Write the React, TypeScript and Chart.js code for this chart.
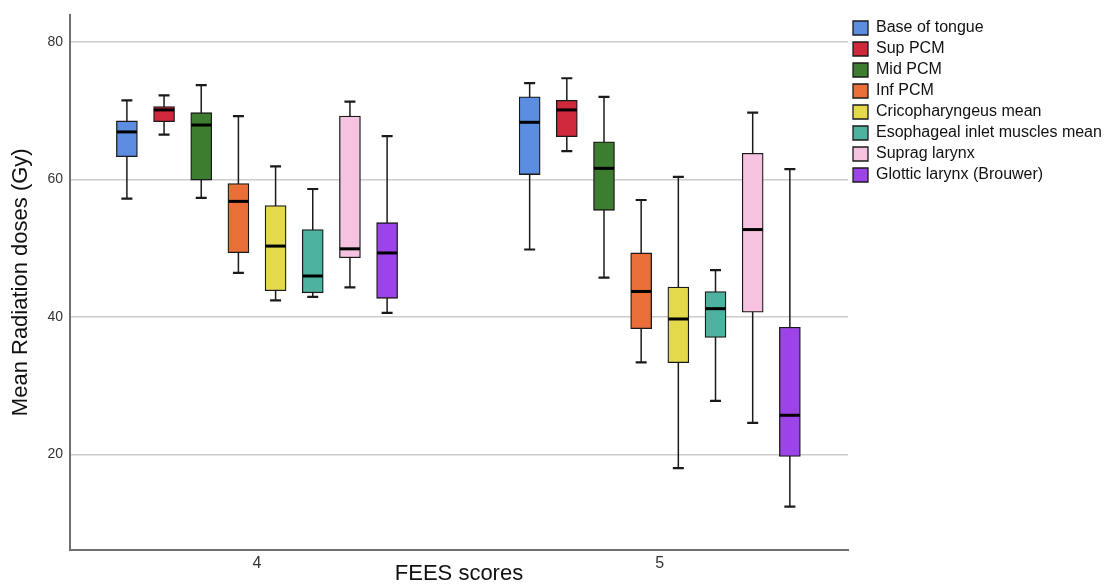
import React, { useEffect, useRef } from "react";
import { Chart, registerables } from "chart.js";

Chart.register(...registerables);

// ---- Data -------------------------------------------------------------
const categories = [4, 5];
const categoryLabels = ["4", "5"];

const seriesNames = [
  "Base of tongue",
  "Sup PCM",
  "Mid PCM",
  "Inf PCM",
  "Cricopharyngeus mean",
  "Esophageal inlet muscles mean",
  "Suprag larynx",
  "Glottic larynx (Brouwer)",
];

const seriesColors = [
  "#5b8ee0",
  "#d0283c",
  "#3d7d2f",
  "#e96e37",
  "#e3d94b",
  "#4db3a0",
  "#f5c3df",
  "#9c44e8",
];

// each row: [FEES 4, FEES 5]
const whiskerMin = [
  [57.2, 49.8],
  [66.5, 64.1],
  [57.3, 45.7],
  [46.4, 33.4],
  [42.4, 18.0],
  [42.9, 27.8],
  [44.3, 24.6],
  [40.6, 12.4],
];
const quartile1 = [
  [63.3, 60.7],
  [68.4, 66.2],
  [59.9, 55.5],
  [49.35, 38.3],
  [43.8, 33.35],
  [43.5, 37.0],
  [48.6, 40.7],
  [42.7, 19.7],
];
const medians = [
  [66.9, 68.3],
  [70.1, 70.1],
  [67.9, 61.6],
  [56.8, 43.7],
  [50.3, 39.7],
  [45.95, 41.2],
  [49.9, 52.7],
  [49.3, 25.7],
];
const quartile3 = [
  [68.5, 72.0],
  [70.6, 71.5],
  [69.7, 65.45],
  [59.4, 49.3],
  [56.2, 44.35],
  [52.7, 43.7],
  [69.2, 63.8],
  [53.7, 38.5],
];
const whiskerMax = [
  [71.5, 74.0],
  [72.2, 74.7],
  [73.7, 72.0],
  [69.2, 57.0],
  [61.9, 60.35],
  [58.6, 46.8],
  [71.3, 69.7],
  [66.3, 61.5],
];

const yTicks = [20, 40, 60, 80];

// ---- Layout constants -------------------------------------------------
const FONT = "'Liberation Sans', Arial, sans-serif";
const SERIES_STEP = 0.0923; // spacing between boxes inside a group (x units)
const EDGE = "#1a1a1a";

const boxPlotPlugin = {
  id: "boxWhiskers",
  beforeDatasetsDraw(chart: any) {
    const ctx = chart.ctx;
    const y = chart.scales.y;
    chart.data.datasets.forEach((_ds: any, i: number) => {
      const meta = chart.getDatasetMeta(i);
      meta.data.forEach((bar: any, j: number) => {
        const x = bar.x;
        const yLo = y.getPixelForValue(whiskerMin[i][j]);
        const yHi = y.getPixelForValue(whiskerMax[i][j]);
        ctx.save();
        ctx.strokeStyle = EDGE;
        ctx.lineWidth = 1.5;
        ctx.beginPath();
        ctx.moveTo(x, yLo);
        ctx.lineTo(x, yHi);
        ctx.stroke();
        ctx.lineWidth = 2.2;
        ctx.beginPath();
        ctx.moveTo(x - 5.5, yLo);
        ctx.lineTo(x + 5.5, yLo);
        ctx.moveTo(x - 5.5, yHi);
        ctx.lineTo(x + 5.5, yHi);
        ctx.stroke();
        ctx.restore();
      });
    });
  },
  afterDatasetsDraw(chart: any) {
    const ctx = chart.ctx;
    const y = chart.scales.y;
    chart.data.datasets.forEach((_ds: any, i: number) => {
      const meta = chart.getDatasetMeta(i);
      meta.data.forEach((bar: any, j: number) => {
        const ym = y.getPixelForValue(medians[i][j]);
        const half = bar.width / 2;
        ctx.save();
        ctx.strokeStyle = "#000";
        ctx.lineWidth = 3;
        ctx.beginPath();
        ctx.moveTo(bar.x - half + 0.5, ym);
        ctx.lineTo(bar.x + half - 0.5, ym);
        ctx.stroke();
        ctx.restore();
      });
    });
  },
};

export default function App() {
  const ref = useRef<HTMLCanvasElement | null>(null);

  useEffect(() => {
    if (!ref.current) return;
    const n = seriesNames.length;
    const datasets = seriesNames.map((name, i) => ({
      label: name,
      data: categories.map((c, j) => ({
        x: c + (i - (n - 1) / 2) * SERIES_STEP,
        y: [quartile1[i][j], quartile3[i][j]],
      })),
      backgroundColor: seriesColors[i],
      borderColor: EDGE,
      borderWidth: 1.3,
      borderSkipped: false,
      barThickness: 21,
      grouped: false,
    }));

    Chart.defaults.font.family = FONT;

    const chart = new Chart(ref.current, {
      type: "bar",
      data: { datasets } as any,
      plugins: [boxPlotPlugin],
      options: {
        animation: false,
        responsive: true,
        maintainAspectRatio: false,
        layout: { padding: { top: 7, right: 0, bottom: 0, left: 0 } },
        plugins: {
          tooltip: { enabled: false },
          legend: {
            position: "right",
            align: "start",
            maxWidth: 254,
            labels: {
              boxWidth: 15,
              boxHeight: 14,
              padding: 5,
              color: "#111",
              font: { size: 16, family: FONT },
            },
          },
        },
        scales: {
          x: {
            type: "linear",
            offset: false,
            min: 3.5357,
            max: 5.4674,
            afterBuildTicks: (scale: any) => {
              scale.ticks = categories.map((v) => ({ value: v }));
            },
            afterFit: (scale: any) => {
              scale.height = 35.5;
              scale.paddingLeft = 0;
              scale.paddingRight = 0;
            },
            ticks: {
              padding: 4,
              color: "#333",
              font: { size: 16, family: FONT },
              callback: (v: any) => {
                const k = categories.indexOf(Number(v));
                return k >= 0 ? categoryLabels[k] : "";
              },
            },
            grid: { display: false, drawTicks: false, offset: false },
            border: { display: true, color: "#707070", width: 2 },
            title: {
              display: true,
              text: "FEES scores",
              color: "#111",
              font: { size: 22, family: FONT },
              padding: { top: 0, bottom: -2 },
            },
          },
          y: {
            type: "linear",
            min: 6.18,
            max: 83.9,
            afterBuildTicks: (scale: any) => {
              scale.ticks = yTicks.map((v) => ({ value: v }));
            },
            afterFit: (scale: any) => {
              scale.width = 62;
              scale.paddingTop = 0;
              scale.paddingBottom = 0;
            },
            ticks: {
              padding: 7,
              color: "#333",
              font: { size: 14, family: FONT },
            },
            grid: { color: "#cccccc", lineWidth: 1.5, drawTicks: false },
            border: { display: true, color: "#707070", width: 2 },
            title: {
              display: true,
              text: "Mean Radiation doses (Gy)",
              color: "#111",
              font: { size: 22, family: FONT },
              padding: { top: 0, bottom: 0 },
            },
          },
        },
      } as any,
    });
    return () => chart.destroy();
  }, []);

  return (
    <div style={{ position: "relative", width: 1094, height: 577 }}>
      <canvas ref={ref} />
    </div>
  );
}
